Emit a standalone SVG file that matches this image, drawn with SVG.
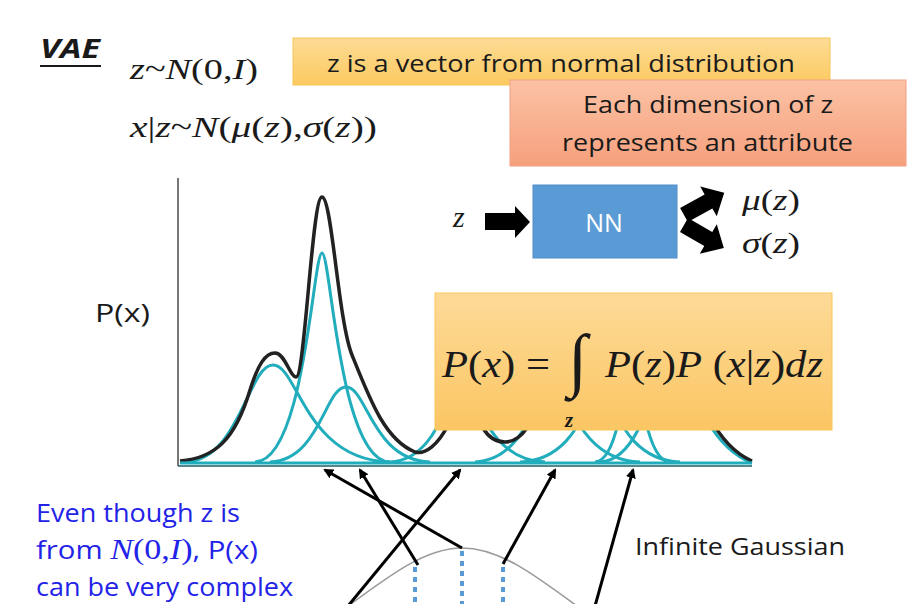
<svg xmlns="http://www.w3.org/2000/svg" width="909" height="604" viewBox="0 0 909 604">
<defs>
<linearGradient id="gYel" x1="0" y1="0" x2="0" y2="1"><stop offset="0" stop-color="#fddc96"/><stop offset="1" stop-color="#fcc95f"/></linearGradient>
<linearGradient id="gOr" x1="0" y1="0" x2="0" y2="1"><stop offset="0" stop-color="#fbc2a5"/><stop offset="1" stop-color="#f6a07c"/></linearGradient>
<linearGradient id="gF" x1="0" y1="0" x2="0" y2="1"><stop offset="0" stop-color="#fdda98"/><stop offset="1" stop-color="#fbc663"/></linearGradient>
<marker id="ah" markerWidth="10" markerHeight="10" refX="8" refY="5" orient="auto" markerUnits="userSpaceOnUse"><path d="M0,0 L10,5 L0,10 Z" fill="#000"/></marker>
</defs>
<style>
.sans{font-family:"Open Sans","Liberation Sans",sans-serif;fill:#1a1a1a}
.math{font-family:"Liberation Serif","DejaVu Serif",serif;fill:#1a1a1a}
.it{font-style:italic}
.teal{fill:none;stroke:#22adbd;stroke-width:3}
.blk{fill:none;stroke:#222;stroke-width:3.5}
.conn{stroke:#000;stroke-width:3;fill:none;marker-end:url(#ah)}
.dot{stroke:#5b9bd5;stroke-width:4;stroke-dasharray:5 5}
.blue{font-family:"Open Sans","Liberation Sans",sans-serif;fill:#2323e8}
</style>
<rect width="909" height="604" fill="#fff"/>

<g id="title">
<text x="40" y="58" class="sans" font-size="27" font-weight="bold" font-style="italic" textLength="60" lengthAdjust="spacingAndGlyphs">VAE</text>
<line x1="40" y1="66" x2="101" y2="66" stroke="#1a1a1a" stroke-width="2"/>
</g>

<g id="eq1">
<text x="130" y="79" class="math" font-size="30" textLength="128" lengthAdjust="spacingAndGlyphs"><tspan class="it">z</tspan>~<tspan class="it">N</tspan>(0,<tspan class="it">I</tspan>)</text>
</g>
<g id="eq2">
<text x="130" y="137" class="math" font-size="30" textLength="247" lengthAdjust="spacingAndGlyphs"><tspan class="it">x</tspan>|<tspan class="it">z</tspan>~<tspan class="it">N</tspan>(<tspan class="it">μ</tspan>(<tspan class="it">z</tspan>),<tspan class="it">σ</tspan>(<tspan class="it">z</tspan>))</text>
</g>

<g id="note1">
<rect x="293" y="38" width="537" height="47" fill="url(#gYel)" stroke="#f8c656" stroke-width="1"/>
<text x="327" y="72" class="sans" font-size="24" textLength="468" lengthAdjust="spacingAndGlyphs">z is a vector from normal distribution</text>
</g>

<g id="note2">
<rect x="510" y="80" width="396" height="86" fill="url(#gOr)" stroke="#f2a283" stroke-width="1"/>
<text x="583" y="113" class="sans" font-size="24" textLength="250" lengthAdjust="spacingAndGlyphs">Each dimension of z</text>
<text x="562" y="151" class="sans" font-size="24" textLength="291" lengthAdjust="spacingAndGlyphs">represents an attribute</text>
</g>

<g id="plabel">
<text x="95" y="322" class="sans" font-size="26" textLength="55" lengthAdjust="spacingAndGlyphs">P(x)</text>
</g>

<g id="chart">
<line x1="178" y1="178" x2="178" y2="466" stroke="#777" stroke-width="2"/>
<path class="teal" d="M185,462 C240,460 248,365 273,365 C298,365 305,460 390,462"/>
<path class="teal" d="M255,462 C305,461 313,253 322,253 C331,253 339,461 390,462"/>
<path class="teal" d="M270,462 C320,460 325,387 346,387 C367,387 372,460 430,462"/>
<path class="teal" d="M390,462 C440,460 448,385 462,385 C476,385 484,460 545,462"/>
<path class="teal" d="M475,462 C530,460 538,380 552,380 C566,380 574,460 640,462"/>
<path class="teal" d="M520,462 C580,460 588,390 600,390 C612,390 620,460 680,462"/>
<path class="teal" d="M595,462 C625,461 628,330 632,330 C636,330 639,461 670,462"/>
<path class="teal" d="M600,462 C650,460 660,340 672,340 C684,340 692,440 752,463"/>
<path class="blk" d="M180,461 C215,458 235,440 250,390 C258,365 265,353 275,353 C285,353 290,377 296,377 C305,377 312,197 322,197 C332,197 338,320 352,355 C370,400 385,440 415,452 C425,455 438,445 448,425 C458,380 475,380 483,428 C490,440 498,442 505,442 C513,442 520,438 527,428 C540,380 560,360 590,370 C610,378 620,315 632,315 C644,315 652,328 672,328 C686,328 694,436 752,461"/>
<line x1="180" y1="463" x2="752" y2="463" stroke="#22adbd" stroke-width="3"/>
<line x1="178" y1="466" x2="752" y2="466" stroke="#1c5f66" stroke-width="1.5"/>
</g>

<g id="formula">
<rect x="435" y="293" width="397" height="137" fill="url(#gF)" stroke="#f9c558" stroke-width="1"/>
<text x="442" y="377" class="math" font-size="38" textLength="108" lengthAdjust="spacingAndGlyphs"><tspan class="it">P</tspan>(<tspan class="it">x</tspan>) =</text>
<text x="568" y="383" class="math" font-size="70" font-style="italic">∫</text>
<text x="565" y="427" class="math" font-size="21" font-style="italic" font-weight="bold">z</text>
<text x="605" y="377" class="math" font-size="37" textLength="218" lengthAdjust="spacingAndGlyphs"><tspan class="it">P</tspan>(<tspan class="it">z</tspan>)<tspan class="it">P</tspan> (<tspan class="it">x</tspan>|<tspan class="it">z</tspan>)<tspan class="it">dz</tspan></text>
</g>

<g id="zin">
<text x="453" y="227" class="math it" font-size="30">z</text>
</g>

<g id="nn">
<rect x="533" y="185" width="144" height="73" fill="#5b9bd5" stroke="#4f8dc9" stroke-width="1"/>
<text x="604" y="232" font-family="Open Sans, Liberation Sans, sans-serif" font-size="25" fill="#fff" text-anchor="middle">NN</text>
</g>

<g id="mu">
<text x="742" y="210" class="math" font-size="30" textLength="58" lengthAdjust="spacingAndGlyphs"><tspan class="it">μ</tspan>(<tspan class="it">z</tspan>)</text>
</g>
<g id="sigma">
<text x="742" y="253" class="math" font-size="30" textLength="58" lengthAdjust="spacingAndGlyphs"><tspan class="it">σ</tspan>(<tspan class="it">z</tspan>)</text>
</g>

<g id="blueNote">
<text x="36" y="522" class="blue" font-size="25" textLength="204" lengthAdjust="spacingAndGlyphs">Even though z is</text>
<text x="36" y="559" class="blue" font-size="25" textLength="222" lengthAdjust="spacingAndGlyphs">from <tspan font-family="Liberation Serif, serif" font-size="29"><tspan font-style="italic">N</tspan>(0,<tspan font-style="italic">I</tspan>)</tspan>, P(x)</text>
<text x="36" y="596" class="blue" font-size="25" textLength="257" lengthAdjust="spacingAndGlyphs">can be very complex</text>
</g>

<g id="gauss">
<path d="M340,612 C390,575 425,548 462,548 C500,548 535,575 585,612" fill="none" stroke="#9a9a9a" stroke-width="1.6"/>
<line class="dot" x1="415" y1="567" x2="415" y2="604"/>
<line class="dot" x1="462" y1="551" x2="462" y2="604"/>
<line class="dot" x1="503" y1="567" x2="503" y2="604"/>
</g>

<g id="infLabel">
<text x="635" y="555" class="sans" font-size="23" textLength="210" lengthAdjust="spacingAndGlyphs">Infinite Gaussian</text>
</g>

<g id="connectors">
<polygon points="485,213 515,213 515,206 530,222 515,238 515,230 485,230" fill="#000"/>
<polygon points="0,-8 28,-8 28,-17 46,0 28,17 28,8 0,8" fill="#000" transform="translate(684,215) rotate(-29)"/>
<polygon points="0,-8 28,-8 28,-17 46,0 28,17 28,8 0,8" fill="#000" transform="translate(684,225) rotate(30)"/>
<line class="conn" x1="462" y1="548" x2="325" y2="470"/>
<line class="conn" x1="418" y1="565" x2="360" y2="470"/>
<line class="conn" x1="348" y1="606" x2="460" y2="470"/>
<line class="conn" x1="503" y1="564" x2="555" y2="470"/>
<line class="conn" x1="595" y1="606" x2="633" y2="470"/>
</g>
</svg>
